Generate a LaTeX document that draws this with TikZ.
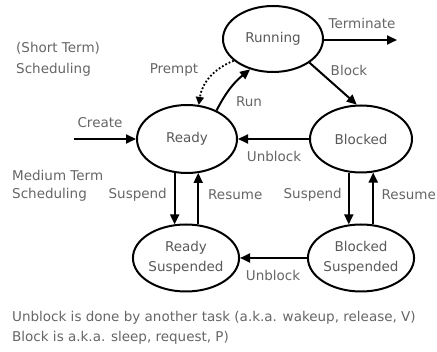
\documentclass[tikz,border=0pt]{standalone}
\usepackage{fontspec}
\setmainfont{DejaVu Sans}
\usetikzlibrary{shapes.geometric,arrows.meta,calc}
\begin{document}
\begin{tikzpicture}[x=1pt,y=-1pt,
  state/.style={ellipse,draw=black,line width=2pt,inner sep=0pt,align=center,text=black!65,font=\fontsize{13.5}{20}\selectfont},
  lbl/.style={text=black!60,font=\fontsize{13.5}{15}\selectfont,inner sep=0pt},
  arr/.style={line width=2pt,-{Triangle[length=10pt,width=9pt]}},
  darr/.style={line width=1.8pt,dotted,-{Triangle[length=8pt,width=8pt]}}]
\useasboundingbox[fill=white] (0,0) rectangle (437,352);
\node[state,minimum width=100pt,minimum height=66pt] (run) at (273,39) {Running};
\node[state,minimum width=100pt,minimum height=68pt] (rdy) at (187,139) {Ready};
\node[state,minimum width=102pt,minimum height=67pt] (blk) at (361,139) {Blocked};
\node[state,minimum width=96pt,minimum height=67pt] (rs) at (186,258) {Ready\\Suspended};
\node[state,minimum width=102pt,minimum height=67pt] (bs) at (361,258) {Blocked\\Suspended};
\coordinate (term) at (397,40);
\coordinate (crt) at (74,139);
\draw[arr] (run.east |- term) -- (term);
\draw[arr] (crt) -- (rdy.west);
\draw[arr] (run.327) -- (blk.97);
\draw[arr] (rdy.44) to[bend left=12] (run.233);
\draw[darr] (run.209) to[bend right=30] (rdy.71);
\draw[arr] (blk.west) -- (rdy.east);
\draw[arr] (bs.west) -- (rs.east);
\draw[arr] (rdy.250) -- (rs.110 -| rdy.250);
\draw[arr] (rs.70) -- (rdy.290 -| rs.70);
\draw[arr] (blk.250) -- (bs.110 -| blk.250);
\draw[arr] (bs.70) -- (blk.290 -| bs.70);
\node[lbl] (l1) at (362,23) {Terminate};
\node[lbl] (l2) at (349,70) {Block};
\node[lbl] (l3) at (249,102) {Run};
\node[lbl] (l4) at (174,70) {Prempt};
\node[lbl] (l5) at (100,123) {Create};
\node[lbl] (l6) at (274,156) {Unblock};
\node[lbl] (l7) at (273,275) {Unblock};
\node[lbl,anchor=east] (l8) at (167,195) {Suspend};
\node[lbl,anchor=west] (l9) at (208,195) {Resume};
\node[lbl,anchor=east] (l10) at (342,195) {Suspend};
\node[lbl,anchor=east] (l11) at (436,195) {Resume};
\node[lbl,anchor=west] (l12) at (16,48) {(Short Term)};
\node[lbl,anchor=west] (l13) at (16,70) {Scheduling};
\node[lbl,anchor=west] (l14) at (12,175) {Medium Term};
\node[lbl,anchor=west] (l15) at (12,195) {Scheduling};
\node[lbl,anchor=west] (l16) at (12,318) {Unblock is done by another task (a.k.a. wakeup, release, V)};
\node[lbl,anchor=west] (l17) at (12,338) {Block is a.k.a. sleep, request, P)};
\end{tikzpicture}
\end{document}
